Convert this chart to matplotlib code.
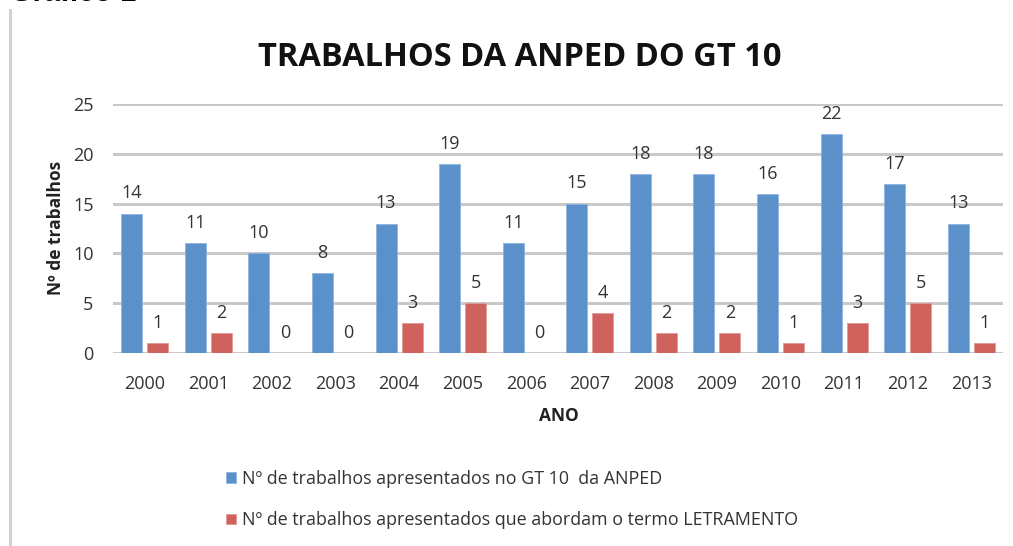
import matplotlib
matplotlib.use("Agg")
import matplotlib.pyplot as plt
import numpy as np
from matplotlib.lines import Line2D

years = ["2000", "2001", "2002", "2003", "2004", "2005", "2006",
         "2007", "2008", "2009", "2010", "2011", "2012", "2013"]
total = [14, 11, 10, 8, 13, 19, 11, 15, 18, 18, 16, 22, 17, 13]
letramento = [1, 2, 0, 0, 3, 5, 0, 4, 2, 2, 1, 3, 5, 1]
label_total = "Nº de trabalhos apresentados no GT 10  da ANPED"
label_letr = "Nº de trabalhos apresentados que abordam o termo LETRAMENTO"
yticks = [0, 5, 10, 15, 20, 25]

FONT = "Open Sans"
plt.rcParams["font.family"] = [FONT, "DejaVu Sans"]

W, H = 1013, 546
fig = plt.figure(figsize=(W / 100, H / 100), dpi=100)

def fx(px):
    return px / W

def fy(py):
    return 1 - py / H

ax = fig.add_axes([fx(113), fy(353), fx(1003) - fx(113), fy(104) - fy(353)])

x = np.arange(len(years))
bw = 0.33
off = 0.205
blue = "#5B91CB"
red = "#CF625D"
b1 = ax.bar(x - off, total, width=bw, color=blue, edgecolor="#8fb4dd", linewidth=0.6,
            label=label_total, zorder=3)
b2 = ax.bar(x + off, letramento, width=bw, color=red, edgecolor="#e09a96", linewidth=0.6,
            label=label_letr, zorder=3)

for bars, vals in ((b1, total), (b2, letramento)):
    for rect, v in zip(bars, vals):
        ax.annotate(str(v), (rect.get_x() + rect.get_width() / 2, v),
                    xytext=(0, 14.5), textcoords="offset points",
                    ha="center", va="center", fontsize=13, color="#333333")

ax.set_xlim(-0.5, len(years) - 0.5)
ax.set_ylim(0, 25)
ax.set_yticks(yticks)
ax.set_xticks(x)
ax.set_xticklabels(years)
ax.tick_params(axis="both", length=0, labelsize=13, labelcolor="#333333")
ax.tick_params(axis="y", pad=14)
ax.tick_params(axis="x", pad=16)
ax.yaxis.grid(True, color="#c9c9c9", linewidth=2.2, zorder=0)
ax.set_axisbelow(True)
for s in ax.spines.values():
    s.set_visible(False)

fig.text(fx(56), fy(228), "Nº de trabalhos", rotation=90, ha="center", va="center",
         fontsize=12.5, fontweight="bold", color="#222222")
fig.text(fx(559), fy(416), "ANO", ha="center", va="center",
         fontsize=12.5, fontweight="bold", color="#222222")
fig.text(fx(520), fy(57), "TRABALHOS DA ANPED DO GT 10", ha="center", va="center",
         fontsize=23.5, fontweight="bold", color="#111111")
fig.text(fx(10), fy(1), "Gráfico 1", ha="left", va="baseline",
         fontsize=21, fontweight="bold", color="#000000",
         family=["Liberation Sans", "DejaVu Sans"])

fig.add_artist(Line2D([fx(10), fx(10)], [fy(10), 0], color="#d2d2d2", linewidth=2.2))

leg = fig.legend(handles=[b1, b2], loc="upper left", bbox_to_anchor=(fx(226), fy(470)),
                 frameon=False, fontsize=12.9, labelspacing=1.3,
                 handlelength=0.55, handleheight=0.55, handletextpad=0.35,
                 borderaxespad=0, borderpad=0)
for t in leg.get_texts():
    t.set_color("#333333")

fig.savefig("out.png", dpi=100)
